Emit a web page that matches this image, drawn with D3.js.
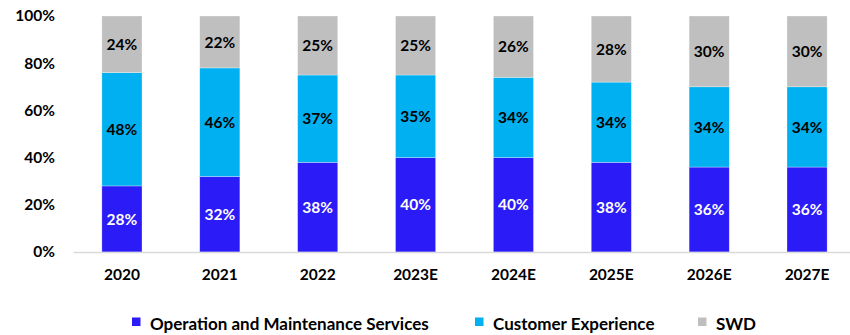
<!DOCTYPE html>
<html>
<head>
<meta charset="utf-8">
<script src="https://cdn.jsdelivr.net/npm/d3@7"></script>
<style>
  html, body { margin: 0; padding: 0; background: #fff; }
  svg { display: block; font-family: Lato, "Open Sans", sans-serif; font-weight: 700; }
</style>
</head>
<body>
<svg id="chart" width="850" height="335"></svg>
<script>
// Revenue mix by segment, share of total (%)
const years = ["2020", "2021", "2022", "2023E", "2024E", "2025E", "2026E", "2027E"];
const operationMaintenance = [28, 32, 38, 40, 40, 38, 36, 36];
const customerExperience   = [48, 46, 37, 35, 34, 34, 34, 34];
const swd                  = [24, 22, 25, 25, 26, 28, 30, 30];
const yTicks = [0, 20, 40, 60, 80, 100];

const series = [
  { name: "Operation and Maintenance Services", values: operationMaintenance, color: "#2A1BF7", text: "#fff" },
  { name: "Customer Experience", values: customerExperience, color: "#00B0F0", text: "#000" },
  { name: "SWD", values: swd, color: "#BFBFBF", text: "#000" }
];

const svg = d3.select("#chart");
const margin = { left: 73, right: -6, top: 16, bottom: 83 };
const W = 850, H = 335;

const x = d3.scaleBand().domain(years).range([margin.left, W - margin.right]).paddingInner(0.59).paddingOuter(0.295);
const y = d3.scaleLinear().domain([0, 100]).range([H - margin.bottom, margin.top]);

const rows = years.map((yr, i) => {
  const r = { year: yr };
  series.forEach(s => r[s.name] = s.values[i]);
  return r;
});
const stacked = d3.stack().keys(series.map(s => s.name))(rows);

// y axis labels
const yAxis = svg.append("g").attr("transform", `translate(${margin.left},0)`)
  .call(d3.axisLeft(y).tickValues(yTicks).tickFormat(d => d + "%").tickSize(0).tickPadding(18));
yAxis.select(".domain").remove();
yAxis.selectAll("text").attr("font-size", 15.5).attr("font-family", "Lato, sans-serif").attr("font-weight", 700).attr("fill", "#000");

// bars
stacked.forEach((layer, li) => {
  const s = series[li];
  const g = svg.append("g");
  g.selectAll("rect").data(layer).join("rect")
    .attr("x", d => x(d.data.year))
    .attr("width", x.bandwidth())
    .attr("y", d => y(d[1]))
    .attr("height", d => y(d[0]) - y(d[1]))
    .attr("fill", s.color)
    .attr("stroke", "#fff").attr("stroke-width", 0.6).attr("stroke-opacity", 0.5);
  g.selectAll("text").data(layer).join("text")
    .attr("x", d => x(d.data.year) + x.bandwidth() / 2)
    .attr("y", d => (y(d[0]) + y(d[1])) / 2)
    .attr("dy", "0.36em")
    .attr("text-anchor", "middle")
    .attr("font-size", 15.5)
    .attr("fill", s.text)
    .text(d => (d[1] - d[0]) + "%");
});

// x axis
const xAxis = svg.append("g").attr("transform", `translate(0,${y(0)})`)
  .call(d3.axisBottom(x).tickSize(0).tickPadding(17));
xAxis.select(".domain").attr("stroke", "#D9D9D9").attr("stroke-width", 1.5);
xAxis.selectAll("text").attr("font-size", 15.5).attr("font-family", "Lato, sans-serif").attr("font-weight", 700).attr("fill", "#000");

// legend
const legendX = [132, 475, 698];
const legend = svg.append("g");
series.forEach((s, i) => {
  legend.append("rect").attr("x", legendX[i]).attr("y", 317.5).attr("width", 8.5).attr("height", 8.5).attr("fill", s.color);
  legend.append("text").attr("x", legendX[i] + 18).attr("y", 330)
    .attr("font-size", 17).attr("fill", "#000").text(s.name);
});
</script>
</body>
</html>
